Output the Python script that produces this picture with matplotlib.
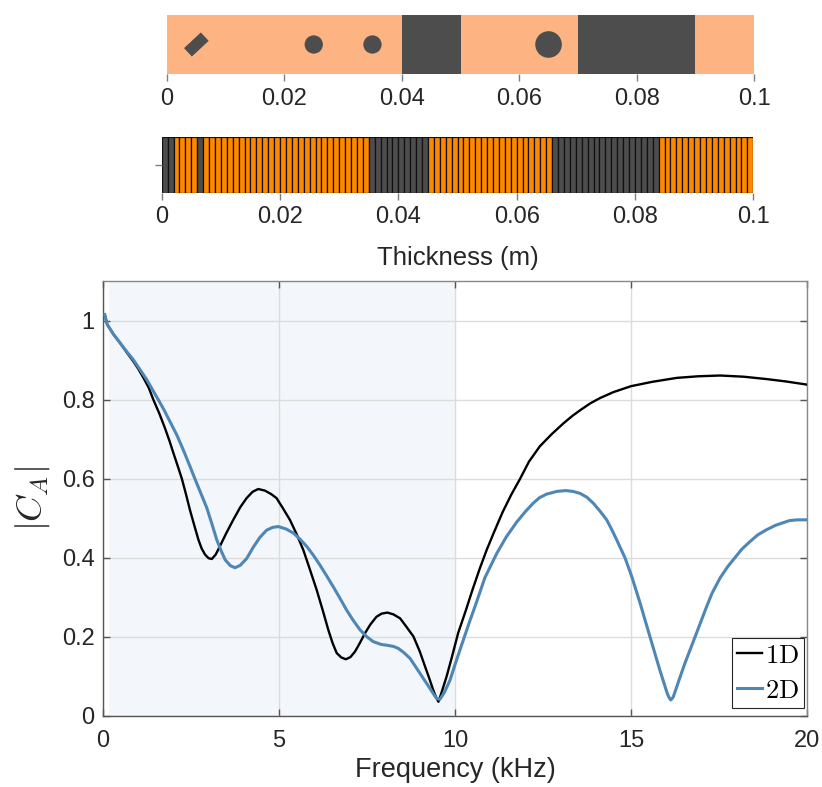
import matplotlib
matplotlib.use("Agg")
import matplotlib.pyplot as plt
from matplotlib.markers import MarkerStyle
from matplotlib.transforms import Affine2D
import numpy as np

plt.rcParams['font.family'] = ['Liberation Sans', 'DejaVu Sans']
plt.rcParams['mathtext.fontset'] = 'cm'

# ---------------- data ----------------
# top panel: homogenised blocks
top_edges = [0.0, 0.04, 0.05, 0.07, 0.09, 0.10]
top_types = ['F', 'M', 'F', 'M', 'F']
# inclusions in top panel
incl_x = [0.005, 0.025, 0.035, 0.065]
incl_shape = ['rect', 'circle', 'circle', 'circle']
incl_size_px = [23, 18.3, 18.3, 26.6]

# middle panel: layered (1 mm layers)
layer_thickness = 0.001
layer_counts = [2, 4, 1, 28, 10, 21, 18, 16]
layer_types = ['M', 'F', 'M', 'F', 'M', 'F', 'M', 'F']

thick_ticks = [0, 0.02, 0.04, 0.06, 0.08, 0.1]
thick_labels = ['0', '0.02', '0.04', '0.06', '0.08', '0.1']

# main panel
freq_1d = [0.05, 0.12, 0.3, 0.48, 0.67, 0.86, 1.0, 1.15, 1.3, 1.43, 1.6, 1.76, 1.88, 2.0, 2.12,
           2.24, 2.36, 2.47, 2.6, 2.71, 2.8, 2.90, 3.0, 3.09, 3.2, 3.32, 3.50, 3.70, 3.9, 4.08,
           4.25, 4.41, 4.6, 4.78, 4.93, 5.1, 5.31, 5.5, 5.69, 5.88, 6.07, 6.25, 6.40, 6.52, 6.64,
           6.77, 6.90, 7.03, 7.16, 7.3, 7.44, 7.6, 7.77, 7.92, 8.08, 8.25, 8.44, 8.6, 8.82, 9.0,
           9.15, 9.27, 9.38, 9.45, 9.53, 9.62, 9.76, 9.9, 10.09, 10.3, 10.5, 10.7, 10.9, 11.1,
           11.35, 11.6, 11.85, 12.1, 12.41, 12.75, 13.08, 13.35, 13.6, 13.85, 14.12, 14.5, 15.0,
           15.6, 16.3, 16.9, 17.53, 18.2, 18.85, 19.4, 20.0]
ca_1d = [1.015, 0.99, 0.965, 0.944, 0.92, 0.897, 0.878, 0.855, 0.83, 0.80, 0.765, 0.728, 0.698,
         0.665, 0.633, 0.60, 0.56, 0.521, 0.48, 0.446, 0.424, 0.408, 0.399, 0.397, 0.408, 0.429,
         0.462, 0.496, 0.528, 0.551, 0.567, 0.574, 0.570, 0.561, 0.551, 0.527, 0.496, 0.46, 0.42,
         0.37, 0.319, 0.265, 0.218, 0.185, 0.159, 0.148, 0.1435, 0.149, 0.163, 0.185, 0.209,
         0.232, 0.251, 0.259, 0.2615, 0.257, 0.247, 0.228, 0.201, 0.163, 0.125, 0.095, 0.066,
         0.05, 0.036, 0.06, 0.0996, 0.145, 0.21, 0.265, 0.32, 0.372, 0.42, 0.463, 0.515, 0.56,
         0.60, 0.643, 0.682, 0.713, 0.74, 0.76, 0.776, 0.791, 0.804, 0.819, 0.834, 0.845, 0.855,
         0.859, 0.861, 0.858, 0.852, 0.846, 0.838]

freq_2d = [0.05, 0.12, 0.3, 0.48, 0.67, 0.86, 1.05, 1.24, 1.4, 1.57, 1.74, 1.90, 2.1, 2.28,
           2.45, 2.61, 2.78, 2.95, 3.1, 3.23, 3.35, 3.47, 3.62, 3.75, 3.9, 4.08, 4.27, 4.46,
           4.65, 4.82, 4.98, 5.2, 5.41, 5.6, 5.79, 5.98, 6.16, 6.35, 6.54, 6.73, 6.92, 7.1, 7.30,
           7.5, 7.68, 7.9, 8.06, 8.25, 8.39, 8.55, 8.72, 8.9, 9.10, 9.25, 9.38, 9.47, 9.57, 9.7,
           9.86, 10.0, 10.14, 10.4, 10.6, 10.85, 11.18, 11.45, 11.75, 12.0, 12.22, 12.4, 12.6,
           12.9, 13.14, 13.35, 13.55, 13.75, 13.93, 14.12, 14.31, 14.45, 14.59, 14.7, 14.83,
           15.02, 15.26, 15.54, 15.82, 16.03, 16.08, 16.13, 16.2, 16.30, 16.4, 16.53, 16.82,
           17.15, 17.3, 17.53, 17.75, 17.95, 18.15, 18.38, 18.6, 18.85, 19.1, 19.33, 19.5, 19.71,
           20.0]
ca_2d = [1.015, 0.99, 0.965, 0.944, 0.922, 0.901, 0.876, 0.851, 0.826, 0.80, 0.773, 0.745, 0.71,
         0.673, 0.636, 0.60, 0.563, 0.526, 0.484, 0.446, 0.419, 0.395, 0.380, 0.375, 0.381,
         0.398, 0.427, 0.452, 0.470, 0.477, 0.479, 0.473, 0.4625, 0.447, 0.4286, 0.406, 0.382,
         0.355, 0.327, 0.298, 0.268, 0.243, 0.218, 0.2, 0.188, 0.181, 0.179, 0.176, 0.171, 0.16,
         0.146, 0.122, 0.095, 0.075, 0.057, 0.045, 0.042, 0.06, 0.091, 0.13, 0.167, 0.235,
         0.285, 0.35, 0.41, 0.452, 0.49, 0.517, 0.538, 0.552, 0.561, 0.568, 0.570, 0.568, 0.563,
         0.553, 0.538, 0.518, 0.496, 0.472, 0.446, 0.425, 0.40, 0.353, 0.285, 0.20, 0.116,
         0.057, 0.047, 0.0405, 0.048, 0.074, 0.10, 0.133, 0.20, 0.277, 0.31, 0.349, 0.378, 0.40,
         0.422, 0.441, 0.458, 0.471, 0.482, 0.489, 0.494, 0.496, 0.496]

band = (0.18, 10.0)
freq_ticks = [0, 5, 10, 15, 20]
ca_ticks = [0, 0.2, 0.4, 0.6, 0.8, 1.0]
ca_labels = ['0', '0.2', '0.4', '0.6', '0.8', '1']

# ---------------- styling ----------------
W, H = 822, 787
fig = plt.figure(figsize=(W / 100, H / 100), dpi=100)

def ax_px(x0, y0, x1, y1):
    return fig.add_axes([x0 / W, 1 - y1 / H, (x1 - x0) / W, (y1 - y0) / H])

txt = '#262626'
tickc = '#7f7f7f'
dark = '#4d4d4d'
light_orange = '#fdb382'
orange = '#ff8800'
fs = 17

# ---- top panel ----
ax1 = ax_px(167, 15, 754, 74)
col_map_top = {'F': light_orange, 'M': dark}
for i, t in enumerate(top_types):
    ax1.barh(0, top_edges[i + 1] - top_edges[i], left=top_edges[i], height=1.0,
             color=col_map_top[t], edgecolor='none')
px2pt = 72 / 100
for x, shp, sz in zip(incl_x, incl_shape, incl_size_px):
    if shp == 'rect':
        m = MarkerStyle('s', transform=Affine2D().scale(1, 0.5).rotate_deg(43))
    else:
        m = MarkerStyle('o')
    ax1.scatter([x], [0], s=(sz * px2pt) ** 2, marker=m, color=dark, edgecolors='none', zorder=3)
ax1.set_xlim(0, 0.1)
ax1.set_ylim(-0.5, 0.5)
ax1.set_yticks([])
ax1.set_xticks(thick_ticks)
ax1.set_xticklabels(thick_labels)
for s in ax1.spines.values():
    s.set_visible(False)
ax1.tick_params(axis='x', direction='out', length=5, width=1, color=tickc,
                labelsize=fs, labelcolor=txt, pad=5)

# ---- middle panel ----
ax2 = ax_px(161.7, 137.3, 753.3, 193.3)
col_map_mid = {'F': orange, 'M': dark}
pos = 0.0
for cnt, t in zip(layer_counts, layer_types):
    for k in range(cnt):
        ax2.barh(0, layer_thickness, left=pos, height=1.0, color=col_map_mid[t],
                 edgecolor='#111111', linewidth=0.9)
        pos += layer_thickness
ax2.set_xlim(0, 0.1)
ax2.set_ylim(-0.5, 0.5)
ax2.set_yticks([0])
ax2.set_yticklabels([''])
ax2.set_xticks(thick_ticks)
ax2.set_xticklabels(thick_labels)
for s in ax2.spines.values():
    s.set_visible(False)
ax2.tick_params(axis='both', direction='out', length=5, width=1, color=tickc,
                labelsize=fs, labelcolor=txt, pad=4)
ax2.set_xlabel('Thickness (m)', fontsize=18.5, color=txt, labelpad=13)

# ---- main panel ----
ax = ax_px(103, 281, 807, 716)
ax.axvspan(band[0], band[1], color='#f3f7fb', zorder=0, lw=0)
ax.plot(freq_1d, ca_1d, color='black', lw=1.7, label=r'$\mathrm{1D}$', zorder=3)
ax.plot(freq_2d, ca_2d, color='#4e86b5', lw=2.2, label=r'$\mathrm{2D}$', zorder=3)
ax.set_xlim(0, 20)
ax.set_ylim(0, 1.1)
ax.set_xticks(freq_ticks)
ax.set_yticks(ca_ticks)
ax.set_yticklabels(ca_labels)
ax.grid(True, color='#dcdcdc', lw=1.0)
ax.set_axisbelow(True)
for side in ['left', 'bottom']:
    ax.spines[side].set_color('#555555')
for side in ['top', 'right']:
    ax.spines[side].set_color('#888888')
for s in ax.spines.values():
    s.set_linewidth(1.0)
ax.tick_params(axis='both', direction='in', length=5, width=1, color='#555555',
               labelsize=fs, labelcolor=txt, top=True, right=True)
ax.tick_params(axis='x', pad=10)
ax.tick_params(axis='y', pad=6)
ax.set_xlabel('Frequency (kHz)', fontsize=19.5, color=txt, labelpad=4)
ax.set_ylabel(r'$|C_A|$', fontsize=26, color=txt)
ax.yaxis.set_label_coords(-0.072, 0.5)
leg = ax.legend(loc='lower right', bbox_to_anchor=(1 - 3 / 704, 8 / 435), borderaxespad=0,
                fontsize=19, handlelength=0.95, handletextpad=0.1, labelspacing=0.42,
                borderpad=0.2, fancybox=False, framealpha=1, edgecolor='#262626')
leg.get_frame().set_linewidth(0.8)

fig.savefig('out.png', dpi=100)
